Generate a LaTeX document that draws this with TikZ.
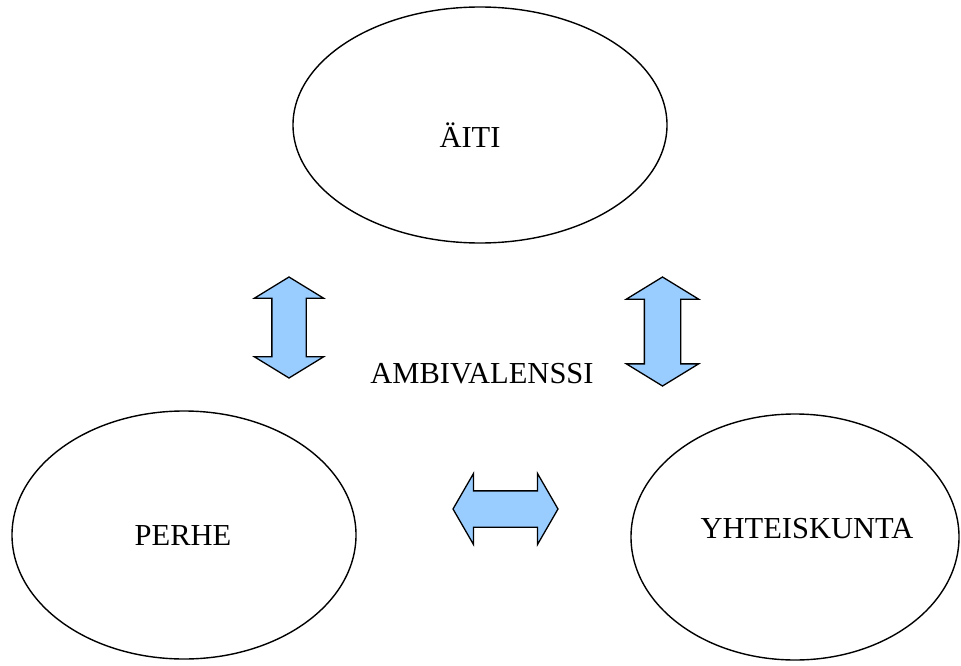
\documentclass[tikz,border=0pt]{standalone}
\usepackage{fontspec}
\setmainfont{Liberation Serif}
\usetikzlibrary{shapes.geometric,shapes.arrows}

\definecolor{arrowblue}{HTML}{99CCFF}

\tikzset{
      bubble/.style={draw,ellipse,line width=1.4pt,inner sep=0pt},
      word/.style={font=\fontsize{30.5}{36}\selectfont,anchor=base,inner sep=0pt},
      blockarrow/.style={draw,double arrow,fill=arrowblue,line width=1.3pt,
            double arrow head extend=17.5pt}
}

\begin{document}
\begin{tikzpicture}[x=1pt,y=-1pt]
      \useasboundingbox (0,0) rectangle (961,666);

      \node[bubble,minimum width=374pt,minimum height=236pt] (aiti) at (480,125) {};
      \node[bubble,minimum width=344pt,minimum height=248pt] (perhe) at (184,535) {};
      \node[bubble,minimum width=328pt,minimum height=246pt] (yhteiskunta) at (795,537) {};

      \node[word] (aititext) at (470,147) {ÄITI};
      \node[word] (perhetext) at (183,545) {PERHE};
      \node[word] (yhteiskuntatext) at (807,538) {YHTEISKUNTA};
      \node[word] (ambivalenssi) at (482,383) {AMBIVALENSSI};

      \node[blockarrow,shape border rotate=90,inner sep=16.5pt,
            minimum height=101pt,double arrow tip angle=117]
            (leftarrow) at (289,327.5) {};
      \node[blockarrow,shape border rotate=90,inner sep=17.5pt,
            double arrow head extend=18pt,
            minimum height=109pt,double arrow tip angle=117]
            (rightarrow) at (662.5,331.5) {};
      \node[blockarrow,inner sep=17.5pt,
            minimum height=105pt,double arrow tip angle=120]
            (bottomarrow) at (505.5,509) {};
\end{tikzpicture}
\end{document}
